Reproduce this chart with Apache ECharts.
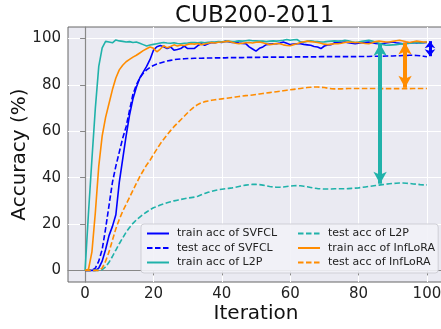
<!DOCTYPE html>
<html>
<head>
<meta charset="utf-8">
<script src="https://cdn.jsdelivr.net/npm/echarts@6/dist/echarts.min.js"></script>
<style>
  html, body { margin: 0; padding: 0; background: #fff; }
  #chart { width: 441px; height: 329px; }
</style>
</head>
<body>
<div id="chart"></div>
<script>
// accuracy (%) per iteration
const svfclTrain = [0, 0, 0, 0, 1, 4, 9, 15, 19, 24,
  38, 48, 58, 67, 74, 79, 83, 85.5, 88, 91,
  95, 96.5, 97, 96.5, 95.7, 96.4, 95, 95.3, 95.7, 96.8,
  95.7, 95.7, 95.8, 97, 97.8, 97.1, 97.8, 98.3, 98.2, 98.5,
  98.3, 98.9, 98.6, 98.3, 98.4, 98.1, 97.9, 97.8, 96.4, 95.5,
  94.6, 95.8, 96.4, 97.4, 97.6, 97.8, 97.8, 98.1, 98.5, 98,
  97.4, 97.6, 97.8, 97.8, 97.5, 97.3, 97.1, 96.6, 96.4, 95.7,
  96.8, 97.2, 97.4, 98.2, 98.5, 98.4, 98.5, 98.2, 98, 97.8,
  98, 98.2, 98.4, 98.5, 98.2, 97.9, 97.8, 97.8, 98.1, 98.3,
  98.5, 98.2, 98, 97.8, 98, 98.2, 98.3, 98.1, 98.3, 98.2, 98.3]
const svfclTest = [0, 0, 0, 1, 4, 9, 18, 28, 38, 45,
  51, 57, 62, 69, 76, 80, 83, 85, 86.5, 87.6,
  88.4, 89, 89.5, 89.9, 90.3, 90.6, 90.9, 91.1, 91.2, 91.3,
  91.4, 91.4, 91.5, 91.5, 91.5, 91.6, 91.6, 91.6, 91.7, 91.7,
  91.7, 91.7, 91.8, 91.8, 91.8, 91.8, 91.8, 91.9, 91.9, 91.9,
  91.9, 91.9, 92, 92, 92, 92, 92, 92, 92, 92,
  92, 92.1, 92.1, 92.1, 92.1, 92.1, 92.1, 92.1, 92.1, 92.2,
  92.2, 92.2, 92.2, 92.2, 92.2, 92.2, 92.2, 92.2, 92.2, 92.2,
  92.3, 92.3, 92.3, 92.3, 92.4, 92.4, 92.4, 92.4, 92.5, 92.5,
  92.5, 92.6, 92.6, 92.7, 92.7, 92.8, 92.8, 92.7, 92.6, 92.4, 92.2]
const l2pTrain = [0, 25, 48, 70, 88, 96, 98.8, 98.5, 98.2, 99.4,
  99, 98.8, 98.5, 98.7, 98.3, 98.5, 98, 97.4, 96.8, 97.2,
  97.5, 97.8, 98.1, 98.3, 98.1, 98, 98.2, 97.9, 97.8, 98,
  98.1, 98.3, 98.3, 98.2, 98.4, 98.2, 98.4, 98.5, 98.5, 98.7,
  98.6, 98.8, 98.9, 98.7, 98.8, 99, 98.9, 99.1, 99.3, 99.1,
  99, 98.9, 98.9, 98.7, 98.9, 99, 98.9, 99.1, 99.3, 99.6,
  99.3, 99.5, 99.6, 98.6, 98.4, 98.9, 99, 98.8, 98.7, 98.5,
  98.6, 98.8, 98.9, 99, 98.9, 99, 99.3, 99.1, 98.6, 98.3,
  98.5, 98.8, 99.1, 99.3, 98.9, 98.5, 98, 97.5, 97.1, 97.2,
  97.3, 97.4, 97.6, 97.7, 97.8, 98, 98.1, 98.3, 98, 98.3, 98.5]
const l2pTest = [0, 0, 0, 0, 0, 0.3, 1.5, 3.5, 6, 8.8,
  11.5, 14, 16.5, 18.5, 20.3, 21.8, 23, 24.2, 25.2, 26.2,
  27, 27.6, 28.2, 28.7, 29.2, 29.6, 30, 30.3, 30.6, 30.9,
  31.2, 31.4, 31.6, 32, 32.6, 33.2, 33.7, 34.1, 34.5, 34.8,
  35, 35.2, 35.4, 35.6, 35.9, 36.2, 36.5, 36.8, 37, 37.1,
  37.1, 37, 36.8, 36.5, 36.2, 36, 35.9, 35.9, 36, 36.2,
  36.4, 36.5, 36.6, 36.5, 36.3, 36.1, 35.8, 35.5, 35.3, 35.2,
  35.1, 35.1, 35.1, 35.2, 35.2, 35.2, 35.2, 35.3, 35.4, 35.5,
  35.6, 35.8, 36, 36.2, 36.4, 36.6, 36.8, 37, 37.2, 37.4,
  37.5, 37.6, 37.7, 37.7, 37.6, 37.5, 37.3, 37.2, 37, 36.9, 36.9]
const infTrain = [0, 0.5, 8, 25, 45, 58, 66, 72, 78, 83,
  86.5, 88.5, 90, 91, 92, 92.8, 93.8, 94.8, 95.6, 96.4,
  95.8, 94.3, 95.5, 96.9, 96, 96.6, 97.3, 96.8, 97.2, 97,
  97.5, 97.8, 97.6, 97.9, 97.4, 97.7, 98, 98.3, 98.1, 98.4,
  98.5, 98.7, 98.9, 98.4, 98, 97.8, 98, 98.2, 98.3, 98.1,
  98.4, 98.5, 98.2, 97.8, 97.4, 97.6, 97.9, 97.8, 97.3, 97,
  96.9, 97.4, 97.8, 98.3, 98.6, 98.9, 98.7, 98.5, 98.3, 98,
  97.6, 97.4, 97.6, 97.8, 97.8, 98, 98.3, 98.5, 98.4, 98.3,
  98.3, 98.1, 97.9, 97.8, 98.2, 98.7, 98.9, 98.7, 98.5, 98.5,
  98.8, 99.1, 99.3, 99, 98.6, 98.3, 98.6, 98.9, 98.7, 98.5, 98.5]
const infTest = [0, 0, 0, 0, 0, 1, 4, 8, 13, 18,
  22, 25.5, 28.5, 31.5, 34.5, 37.5, 40.5, 43, 45.5, 47.5,
  50, 52.3, 54.6, 56.6, 58.5, 60.3, 62, 63.5, 65, 66.5,
  68, 69.4, 70.6, 71.6, 72.3, 72.8, 73.1, 73.4, 73.6, 73.8,
  74, 74.2, 74.4, 74.6, 74.8, 75, 75.2, 75.4, 75.5, 75.7,
  75.9, 76.1, 76.3, 76.5, 76.7, 76.9, 77.1, 77.3, 77.5, 77.7,
  77.9, 78.1, 78.3, 78.5, 78.7, 78.9, 79, 79.1, 79.1, 79,
  78.9, 78.6, 78.4, 78.3, 78.3, 78.3, 78.4, 78.5, 78.5, 78.5,
  78.5, 78.5, 78.5, 78.5, 78.5, 78.5, 78.5, 78.4, 78.4, 78.4,
  78.4, 78.4, 78.4, 78.4, 78.4, 78.4, 78.5, 78.5, 78.5, 78.5, 78.5]

// gap arrows: x position, top and bottom of each arrow
const gapX = [86.3, 93.6, 100.9]
const gapTop = [97.8, 98.3, 98.9]
const gapBottom = [37.4, 78.8, 92.4]

const ticks = [0, 20, 40, 60, 80, 100]

const FONT = '"DejaVu Sans", sans-serif'
const BLUE = '#0000FF', TEAL = '#20B2AA', ORANGE = '#FF8C00'

const iters = svfclTrain.map((_, i) => i)
const pairs = ys => ys.map((y, i) => [iters[i], y])

function arrow(i, color, width, head) {
  return {
    silent: true,
    symbol: ['arrow', 'arrow'],
    symbolSize: head,
    label: { show: false },
    lineStyle: { color, width, type: 'solid' },
    data: [[{ coord: [gapX[i], gapTop[i]] }, { coord: [gapX[i], gapBottom[i]] }]],
  }
}

function line(name, ys, color, dashed, mark) {
  const s = {
    name, type: 'line', data: pairs(ys),
    symbol: 'none', showSymbol: false, clip: false,
    lineStyle: { color, width: 1.6, type: dashed ? [5.5, 2.5] : 'solid' },
    itemStyle: { color },
    emphasis: { disabled: true },
  }
  if (mark) s.markLine = mark
  return s
}

const legendBase = {
  orient: 'vertical', itemWidth: 22, itemHeight: 12, itemGap: 3.5,
  selectedMode: false,
  itemStyle: { opacity: 0 },
  textStyle: { fontSize: 11, color: '#222', fontFamily: FONT, padding: [0, 0, 0, 3] },
}

const chart = echarts.init(document.getElementById('chart'))
chart.setOption({
  animation: false,
  backgroundColor: '#fff',
  title: {
    text: 'CUB200-2011', left: 175, top: 5, padding: 0,
    textStyle: { fontSize: 23, fontWeight: 'normal', color: '#111', fontFamily: FONT },
  },
  grid: {
    left: 68, top: 27, right: -3, bottom: 47,
    outerBoundsMode: 'none', containLabel: false,
    show: true, backgroundColor: '#EAEAF2', borderColor: '#666', borderWidth: 1,
  },
  legend: [
    Object.assign({}, legendBase, {
      data: ['train acc of SVFCL', 'test acc of SVFCL', 'train acc of L2P'],
      left: 141, top: 224, padding: [4, 161, 5, 5],
      backgroundColor: 'rgba(242,242,247,0.9)', borderColor: '#cfcfd6', borderWidth: 1, borderRadius: 3,
    }),
    Object.assign({}, legendBase, {
      data: ['test acc of L2P', 'train acc of InfLoRA', 'test acc of InfLoRA'],
      left: 297, top: 228, padding: 0,
    }),
  ],
  xAxis: {
    type: 'value', min: -5, max: 105,
    name: 'Iteration', nameLocation: 'middle', nameGap: 22, nameMoveOverlap: false,
    nameTextStyle: { fontSize: 20, color: '#111', fontFamily: FONT },
    axisLine: { show: true, lineStyle: { color: '#888', width: 1.2 } },
    axisTick: { show: true, length: 5, customValues: ticks, lineStyle: { color: '#888' } },
    axisLabel: { customValues: ticks, fontSize: 15, color: '#222', margin: 5, fontFamily: FONT },
    splitLine: { show: true, lineStyle: { color: '#fff', width: 1 } },
  },
  yAxis: {
    type: 'value', min: -5, max: 105,
    name: 'Accuracy (%)', nameLocation: 'middle', nameGap: 38, nameMoveOverlap: false,
    nameTextStyle: { fontSize: 20, color: '#111', fontFamily: FONT },
    axisLine: { show: true, lineStyle: { color: '#888', width: 1.2 } },
    axisTick: { show: true, length: 5, customValues: ticks, lineStyle: { color: '#888' } },
    axisLabel: { customValues: ticks, fontSize: 15, color: '#222', margin: 7, fontFamily: FONT },
    splitLine: { show: true, lineStyle: { color: '#fff', width: 1 } },
  },
  series: [
    line('train acc of SVFCL', svfclTrain, BLUE, false),
    line('test acc of SVFCL', svfclTest, BLUE, true, arrow(2, BLUE, 3, [8, 7])),
    line('train acc of L2P', l2pTrain, TEAL, false),
    line('test acc of L2P', l2pTest, TEAL, true, arrow(0, TEAL, 4, [10, 12])),
    line('train acc of InfLoRA', infTrain, ORANGE, false),
    line('test acc of InfLoRA', infTest, ORANGE, true, arrow(1, ORANGE, 4, [10, 12])),
  ],
})
</script>
</body>
</html>
